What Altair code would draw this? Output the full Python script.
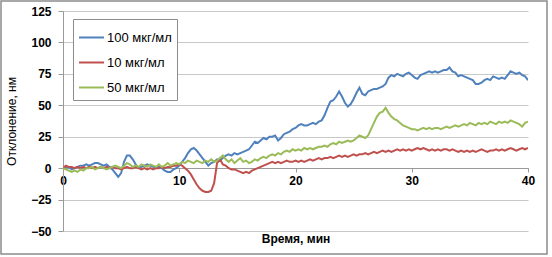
import altair as alt
import pandas as pd

step = 0.25

series_names = ["100 мкг/мл", "10 мкг/мл", "50 мкг/мл"]
colors = ["#4F81BD", "#C0504D", "#9BBB59"]

blue = [
    0, 1, 1, -1, 0,
    1, 2, 2, 3,
    2, 3, 4, 4,
    3, 2, 3, 1,
    -1, -4, -7, -4,
    5, 10, 10, 7,
    3, 0, 1, 2,
    3, 2, 1, 0,
    1, 0, -2, -3,
    -3, -1, 0, 2,
    5, 8, 12, 15,
    16, 14, 11, 8,
    5, 2, 4, 5,
    7, 6, 8, 10,
    11, 10, 12, 11,
    12, 13, 14, 15,
    18, 21, 20, 22,
    24, 23, 25, 25,
    26, 22, 24, 27,
    28, 29, 31, 32,
    34, 35, 34, 34,
    35, 36, 35, 37,
    38, 42, 48, 53,
    54, 57, 61, 57,
    52, 49, 51, 55,
    60, 64, 59, 58,
    61, 62, 63, 63,
    64, 65, 67, 72,
    74, 73, 75, 74,
    73, 75, 76, 74,
    72, 71, 74, 75,
    76, 77, 76, 77,
    76, 77, 78, 78,
    80, 77, 76, 73,
    74, 73, 72, 71,
    70, 67, 67, 68,
    70, 71, 70, 73,
    72, 71, 72, 71,
    74, 77, 76, 75,
    76, 74, 73, 70,
]

red = [
    0, 2, 1, 1, 0,
    1, 0, 1, 0,
    1, 0, 1, 0,
    1, 0, 1, 0,
    1, 0, 0, -1,
    0, 1, 0, 0,
    1, 0, -1, 0,
    -1, 0, -1, 0,
    0, 1, 0, 1,
    1, 2, 2, 3,
    2, 0, -2, -5,
    -9, -13, -16, -18,
    -19, -19, -18, -12,
    4, 7, 3, 2,
    0, -1, -1, -2,
    -3, -4, -3, -4,
    -2, -1, 0, 1,
    2, 3, 4, 5,
    4, 5, 4, 5,
    6, 5, 5, 6,
    5, 6, 5, 6,
    7, 6, 7, 8,
    7, 8, 8, 9,
    8, 9, 10, 9,
    10, 9, 10, 11,
    10, 11, 11, 12,
    11, 12, 13, 12,
    13, 14, 13, 14,
    13, 14, 15, 14,
    15, 14, 15, 14,
    15, 16, 15, 16,
    15, 14, 15, 14,
    15, 14, 15, 15,
    14, 15, 14, 13,
    14, 13, 14, 13,
    14, 13, 14, 15,
    14, 13, 14, 14,
    15, 14, 15, 14,
    15, 16, 15, 14,
    15, 16, 15, 16,
]

green = [
    0, -1, -2, -3, -2,
    -3, -1, -2, 0,
    0, 1, -1, 0,
    1, 0, -1, 0,
    1, 2, 1, 0,
    2, 4, 3, 1,
    2, 1, 3, 2,
    1, 3, 2, 1,
    3, 1, 2, 4,
    2, 3, 4, 3,
    5, 4, 6, 5,
    4, 6, 5, 4,
    6, 5, 7, 5,
    6, 8, 10, 7,
    5, 7, 4, 6,
    8, 5, 6, 4,
    5, 7, 6, 8,
    9, 8, 10, 11,
    10, 12, 11, 13,
    14, 13, 15, 14,
    15, 14, 16, 15,
    16, 15, 16, 17,
    17, 18, 17, 19,
    20, 19, 21, 20,
    21, 22, 21, 22,
    24, 26, 25, 24,
    26, 31, 36, 41,
    44, 45, 48, 44,
    41, 39, 38, 36,
    34, 33, 32, 31,
    31, 30, 31, 32,
    31, 32, 31, 32,
    32, 31, 32, 33,
    32, 33, 34, 33,
    34, 35, 34, 36,
    35, 34, 36, 35,
    36, 35, 37, 36,
    35, 37, 36, 37,
    36, 38, 37, 36,
    35, 33, 36, 37,
]

x_ticks = [0, 10, 20, 30, 40]
y_ticks = [-50, -25, 0, 25, 50, 75, 100, 125]

rows = []
for name, vals in zip(series_names, [blue, red, green]):
    for i, v in enumerate(vals):
        rows.append({"t": i * step, "v": v, "s": name, "k": series_names.index(name)})
df = pd.DataFrame(rows)

FONT = "Liberation Sans"
AX = "#9a9a9a"

lines = alt.Chart(df).mark_line(strokeWidth=2, clip=True).encode(
    x=alt.X("t:Q", scale=alt.Scale(domain=[0, 40], nice=False),
            axis=alt.Axis(values=x_ticks, grid=False, offset=-63,
                          domainColor=AX, tickColor=AX, tickSize=4,
                          labelFont=FONT, labelFontSize=12, labelFontWeight="bold",
                          labelColor="black", labelPadding=3, labelFlush=False,
                          title="Время, мин", titleFont=FONT, titleFontSize=12,
                          titleFontWeight="bold", titleColor="black",
                          titleX=232.5, titleY=70, titleBaseline="middle",
                          titleAlign="center")),
    y=alt.Y("v:Q", scale=alt.Scale(domain=[-50, 125], nice=False),
            axis=alt.Axis(values=y_ticks, grid=True, gridColor="#c8c8c8",
                          domainColor=AX, tickColor=AX, tickSize=5,
                          labelFont=FONT, labelFontSize=12, labelFontWeight="bold",
                          labelColor="black", labelPadding=7, labelFlush=False,
                          title="Отклонение, нм", titleFont=FONT, titleFontSize=12,
                          titleFontWeight="normal", titleColor="black",
                          titlePadding=12)),
    color=alt.Color("s:N", scale=alt.Scale(domain=series_names, range=colors),
                    legend=alt.Legend(title=None, orient="none", legendX=10, legendY=8,
                                      fillColor="white", strokeColor="#8c8c8c",
                                      padding=5, symbolType="stroke", symbolSize=625,
                                      symbolStrokeWidth=2, labelFont=FONT,
                                      labelFontSize=13, labelColor="black",
                                      labelOffset=2, rowPadding=4)),
    order=alt.Order("t:Q"),
    detail="k:N",
)

frame = alt.Chart(pd.DataFrame({"a": [0]})).mark_rect(
    fillOpacity=0, stroke="#8c8c8c", strokeWidth=1.5, clip=False
).encode(x=alt.value(-62), x2=alt.value(484), y=alt.value(-10), y2=alt.value(243))

chart = alt.layer(frame, lines).properties(
    width=465, height=220,
    padding={"left": 63, "top": 11, "right": 24, "bottom": 26},
    autosize=alt.AutoSizeParams(type="none"),
    background="white",
).configure_view(stroke=None)

chart.save("out.html", embed_options={"renderer": "svg", "actions": False})
